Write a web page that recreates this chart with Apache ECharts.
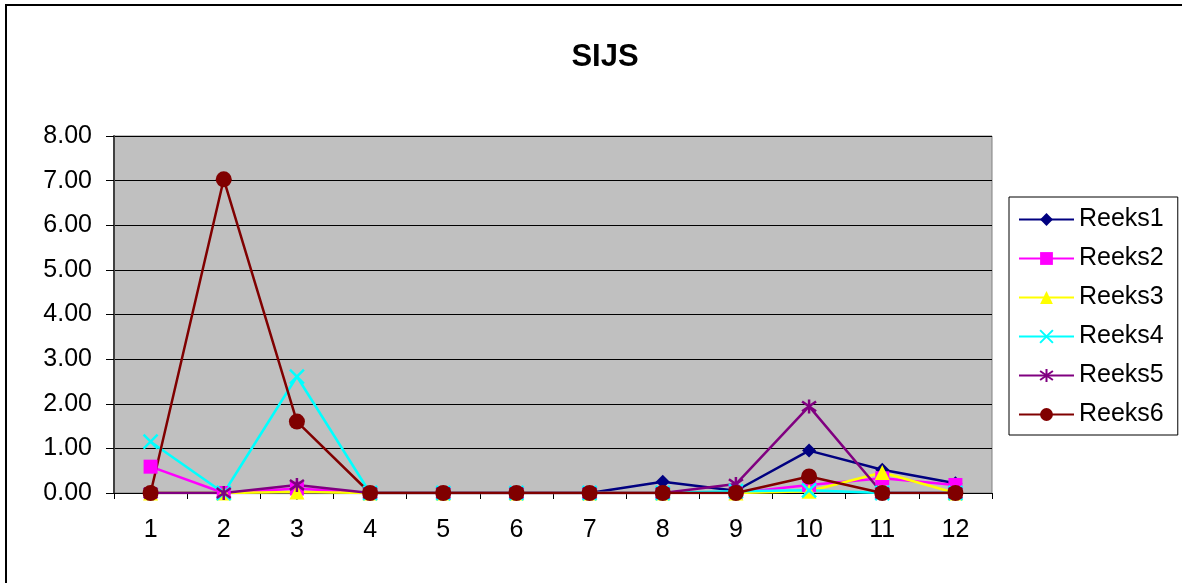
<!DOCTYPE html>
<html>
<head>
<meta charset="utf-8">
<script src="https://cdn.jsdelivr.net/npm/echarts@6/dist/echarts.min.js"></script>
<style>
html,body{margin:0;padding:0;background:#fff;}
#chart{width:1182px;height:583px;}
</style>
</head>
<body>
<div id="chart"></div>
<script>
const categories = ['1','2','3','4','5','6','7','8','9','10','11','12'];
const reeks1 = [0, 0, 0, 0, 0, 0, 0, 0.25, 0.05, 0.95, 0.52, 0.22];
const reeks2 = [0.59, 0, 0.1, 0, 0, 0, 0, 0, 0, 0.18, 0.33, 0.18];
const reeks3 = [0, 0, 0.02, 0, 0, 0, 0, 0, 0, 0.04, 0.46, 0];
const reeks4 = [1.15, 0, 2.61, 0, 0, 0, 0, 0, 0.04, 0.06, 0, 0];
const reeks5 = [0, 0, 0.18, 0, 0, 0, 0, 0, 0.2, 1.94, 0, 0];
const reeks6 = [0, 7.03, 1.6, 0, 0, 0, 0, 0, 0, 0.37, 0, 0];
const yTicks = [0, 8, 1];

const seriesDefs = [
  {name:'Reeks1', data:reeks1, color:'#000080', symbol:'diamond', size:14},
  {name:'Reeks2', data:reeks2, color:'#FF00FF', symbol:'rect', size:14},
  {name:'Reeks3', data:reeks3, color:'#FFFF00', symbol:'triangle', size:15},
  {name:'Reeks4', data:reeks4, color:'#00FFFF', symbol:'path://M0,0 L10,10 M10,0 L0,10', size:14, stroke:true},
  {name:'Reeks5', data:reeks5, color:'#800080', symbol:'path://M5,0 L5,10 M0,1.5 L10,8.5 M10,1.5 L0,8.5', size:14, stroke:true},
  {name:'Reeks6', data:reeks6, color:'#800000', symbol:'circle', size:16}
];

const chart = echarts.init(document.getElementById('chart'));
const font = 'Liberation Sans, Arial, sans-serif';
chart.setOption({
  animation:false,
  backgroundColor:'#fff',
  title:{text:'SIJS', left:600, textAlign:'center', top:37,
    textStyle:{fontFamily:font, fontSize:31, fontWeight:'bold', color:'#000'}},
  grid:{left:114, right:190, top:136, bottom:90, show:true, backgroundColor:'#C0C0C0', borderColor:'#808080', borderWidth:1},
  legend:{orient:'vertical', left:1009, top:197,
    padding:[10,14,8,9], borderColor:'#000', borderWidth:1,
    itemWidth:55, itemHeight:16, itemGap:14,
    textStyle:{fontFamily:font, fontSize:25, color:'#000'},
    data:seriesDefs.map(s=>s.name)},
  xAxis:{type:'category', data:categories, boundaryGap:true,
    axisLine:{lineStyle:{color:'#000', width:1}},
    axisTick:{show:true, length:6, alignWithLabel:false, lineStyle:{color:'#000'}},
    axisLabel:{fontFamily:font, fontSize:25, color:'#000', margin:25},
    splitLine:{show:false}},
  yAxis:{type:'value', min:yTicks[0], max:yTicks[1], interval:yTicks[2],
    axisLine:{show:true, lineStyle:{color:'#404040', width:2}},
    axisTick:{show:true, length:8, lineStyle:{color:'#000'}},
    axisLabel:{fontFamily:font, fontSize:25, color:'#000', margin:22, formatter:v=>v.toFixed(2)},
    splitLine:{show:true, lineStyle:{color:'#000', width:1}}},
  graphic:[{type:'rect', shape:{x:6, y:5, width:1200, height:620}, style:{fill:'none', stroke:'#000', lineWidth:2}, silent:true, z:-1}],
  series:seriesDefs.map(s=>({
    name:s.name, type:'line', data:s.data, symbol:s.symbol, symbolSize:s.size,
    showAllSymbol:true,
    lineStyle:{color:s.color, width:2.5},
    itemStyle: s.stroke ? {color:s.color, borderColor:s.color, borderWidth:2.5} : {color:s.color, borderWidth:0},
    emphasis:{disabled:true}
  }))
});
</script>
</body>
</html>
